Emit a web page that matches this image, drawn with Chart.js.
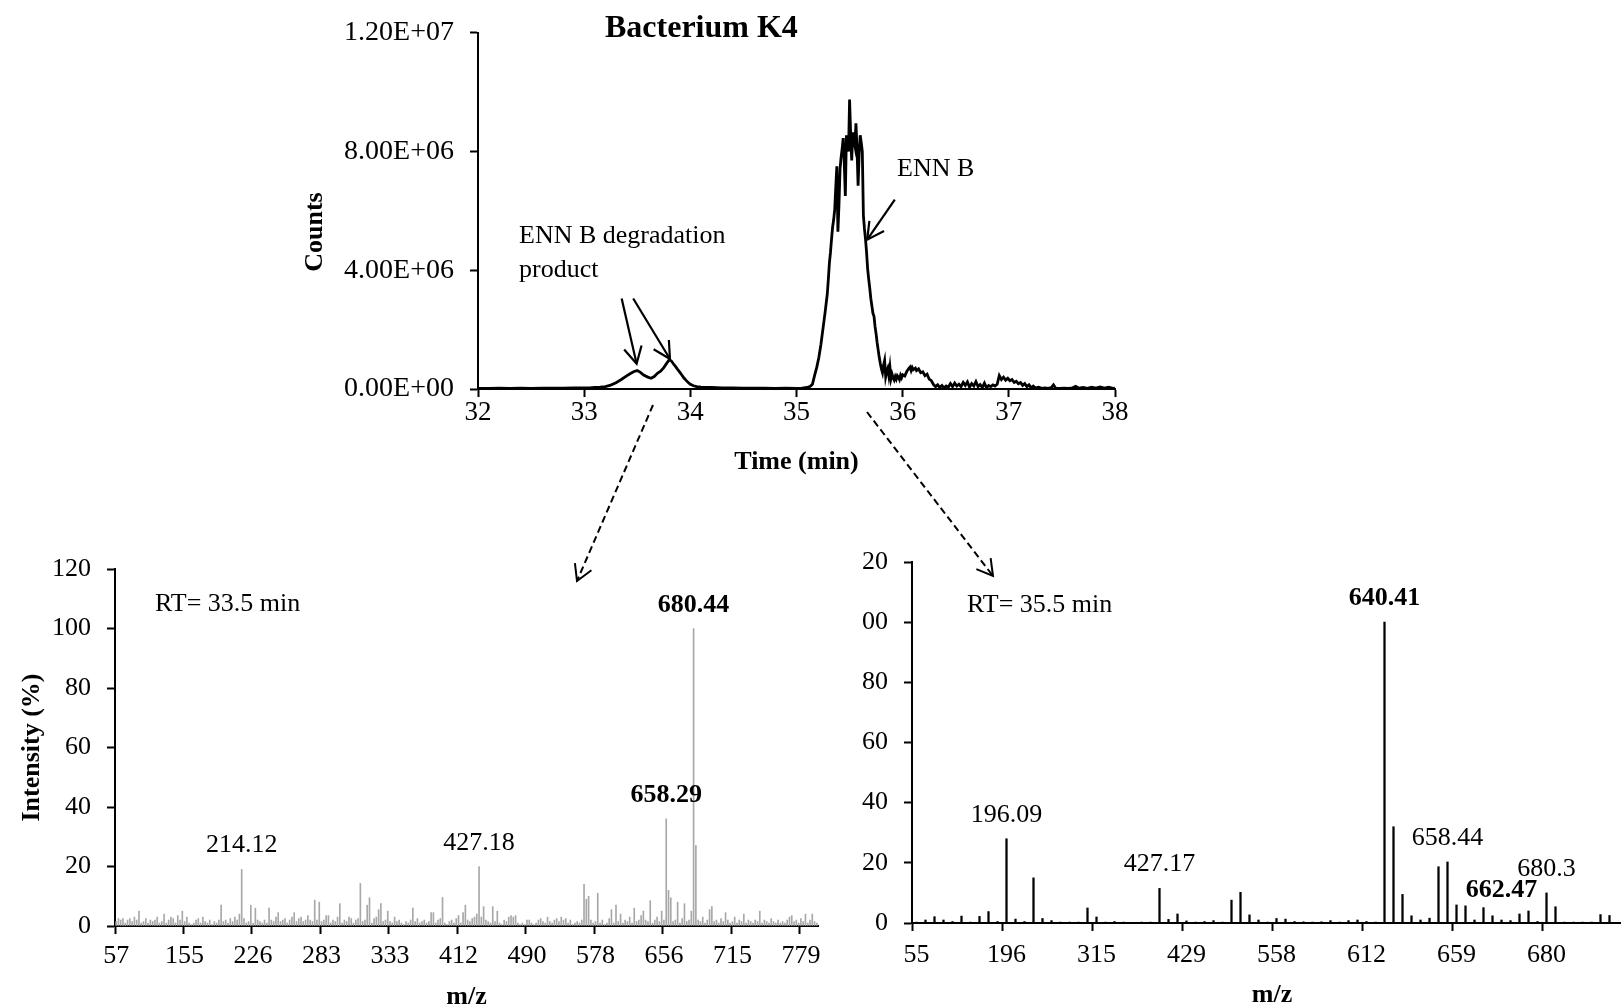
<!DOCTYPE html>
<html>
<head>
<meta charset="utf-8">
<title>Bacterium K4 – ENN B degradation</title>
<script src="https://cdn.jsdelivr.net/npm/chart.js@4.4.1/dist/chart.umd.min.js"></script>
<style>
  html, body { margin: 0; padding: 0; background: #fff; }
  body { position: relative; width: 1621px; height: 1008px; overflow: hidden; }
  canvas { position: absolute; display: block; }
  #tic { left: 260px; top: 0; }
  #msA { left: 0; top: 520px; }
  #clipB { position: absolute; left: 862px; top: 520px; width: 759px; height: 488px; overflow: hidden; }
  #msB { left: -22px; top: 0; }
  #links { left: 0; top: 0; pointer-events: none; z-index: 5; }
</style>
</head>
<body>
<canvas id="tic" width="880" height="480"></canvas>
<canvas id="msA" width="862" height="490"></canvas>
<div id="clipB"><canvas id="msB" width="800" height="490"></canvas></div>
<canvas id="links" width="1621" height="1008"></canvas>
<script>
// ---------- Total ion chromatogram (time in min, counts in millions) ----------
const times = [
  32.00,32.10,32.20,32.30,32.40,32.50,32.60,32.70,32.80,32.90,
  33.00,33.05,33.10,33.15,33.20,33.25,33.30,33.35,33.40,33.44,
  33.47,33.50,33.53,33.56,33.60,33.63,33.66,33.69,33.72,33.75,
  33.78,33.80,33.82,33.84,33.86,33.88,33.90,33.92,33.94,33.96,
  33.98,34.00,34.03,34.06,34.10,34.20,34.30,34.40,34.50,34.60,
  34.70,34.80,34.90,35.00,35.05,35.10,35.13,35.15,35.17,35.19,
  35.21,35.23,35.25,35.27,35.29,35.30,35.31,35.32,35.33,35.34,
  35.35,35.36,35.37,35.38,35.39,35.40,35.41,35.42,35.43,35.44,
  35.45,35.46,35.47,35.48,35.49,35.50,35.51,35.52,35.53,35.54,
  35.55,35.56,35.57,35.58,35.59,35.60,35.61,35.62,35.63,35.64,
  35.65,35.66,35.67,35.68,35.69,35.70,35.71,35.72,35.73,35.74,
  35.75,35.76,35.77,35.78,35.79,35.80,35.81,35.82,35.83,35.84,
  35.85,35.86,35.87,35.88,35.89,35.90,35.91,35.92,35.93,35.94,
  35.95,35.96,35.97,35.98,35.99,36.00,36.02,36.04,36.06,36.07,
  36.08,36.09,36.10,36.12,36.13,36.15,36.17,36.19,36.21,36.23,
  36.25,36.27,36.29,36.31,36.33,36.35,36.37,36.39,36.41,36.43,
  36.45,36.47,36.49,36.51,36.53,36.55,36.57,36.59,36.61,36.63,
  36.65,36.67,36.69,36.71,36.73,36.75,36.77,36.79,36.81,36.83,
  36.85,36.87,36.89,36.91,36.93,36.95,36.97,36.99,37.01,37.03,
  37.05,37.07,37.09,37.11,37.13,37.15,37.17,37.19,37.21,37.23,
  37.25,37.28,37.31,37.34,37.37,37.40,37.42,37.44,37.48,37.52,
  37.56,37.60,37.63,37.66,37.70,37.74,37.78,37.82,37.86,37.90,
  37.94,37.98,38.00
];
const countsMillions = [
  0.02,0.02,0.03,0.02,0.03,0.02,0.03,0.03,0.03,0.04,
  0.04,0.04,0.05,0.06,0.08,0.13,0.21,0.32,0.44,0.53,
  0.59,0.62,0.56,0.47,0.40,0.36,0.42,0.53,0.60,0.72,
  0.88,0.98,0.95,0.85,0.76,0.66,0.57,0.47,0.37,0.29,
  0.22,0.16,0.11,0.08,0.06,0.05,0.04,0.04,0.03,0.03,
  0.03,0.02,0.03,0.02,0.03,0.05,0.09,0.16,0.45,0.72,
  1.05,1.50,2.05,2.60,3.20,3.70,4.25,4.60,5.05,5.45,
  5.70,6.05,6.80,7.50,5.30,6.20,7.40,7.80,8.10,8.45,
  7.60,6.50,8.55,8.30,8.00,9.75,8.60,7.70,8.65,8.40,
  8.20,8.95,8.10,6.85,7.90,8.55,8.30,8.00,5.85,5.40,
  5.05,4.60,4.05,3.70,3.40,3.05,2.80,2.55,2.45,2.10,
  1.85,1.55,1.30,1.05,0.85,0.68,0.55,0.80,0.96,0.42,
  0.60,0.70,0.45,0.74,0.35,0.50,0.38,0.30,0.42,0.33,
  0.45,0.40,0.32,0.46,0.38,0.48,0.44,0.60,0.70,0.74,
  0.62,0.72,0.65,0.70,0.62,0.68,0.55,0.58,0.45,0.50,
  0.33,0.28,0.15,0.08,0.14,0.05,0.12,0.04,0.10,0.06,
  0.18,0.08,0.20,0.10,0.16,0.08,0.22,0.12,0.24,0.06,
  0.18,0.10,0.25,0.08,0.15,0.05,0.20,0.04,0.12,0.08,
  0.14,0.10,0.16,0.45,0.32,0.40,0.30,0.36,0.28,0.32,
  0.22,0.26,0.18,0.22,0.12,0.18,0.08,0.14,0.04,0.10,
  0.03,0.06,0.02,0.04,0.02,0.05,0.14,0.03,0.02,0.03,
  0.02,0.04,0.09,0.03,0.05,0.02,0.06,0.03,0.07,0.03,
  0.06,0.02,0.03
];
const counts = countsMillions.map(v => v * 1e6);

// ---------- MS spectrum at RT 33.5 min (relative intensity, %) ----------
const mzTicksA = ['57','155','226','283','333','412','490','578','656','715','779'];
const intensityA = [
  1.5,2.5,2,2.5,1,2,2.5,1.5,3,2,5,1,1.5,2.5,1,2,1.5,2,3,1,
  1.5,4,1,2,3,2.5,1,3.5,2,5,1.5,3,1,0.5,1,2,2.5,1,3,1.5,
  1,2,0.5,1.5,1,2,7,1.5,2,1,2.5,1.5,3,2,4,19,2.5,1,1.5,7,
  1,6,2,1.5,1,2,1,6,2,1.5,3,4.5,1.5,2,2.5,1,2,3,4.5,1.5,
  2.5,3,1.5,2,3.5,2,1.5,8.7,2,8,1.5,2,3.5,3.5,1,2,1.5,3,7.5,1,
  2,1.5,3,2.5,1,2,2.5,14.3,1.5,2,7,9.5,1,2.5,3,5.5,7.5,1.5,2,5,
  1.5,1,3,1.5,2,1,0.5,1.5,1,2,6,1.5,2.5,1,1.5,2,1,1.5,4.5,4.5,
  1,2,2.5,9.6,1,0.5,1.5,2,1,2.5,3.5,1,4.5,7,2,1.5,2.5,3,4,20,
  3,6.5,2,1.5,1,6.5,1.5,5,1,0.5,2,1.5,3,3.5,3,3.5,1,0.5,1,0.5,
  2,2,1,0.5,1,2,2.5,1.5,1,3,1.5,1,2,2.5,1.5,3,2,2.5,1,2,
  0.5,1,1.5,1,2,14,9,10,2,1,1.5,11,1,2,0.5,1,2.5,5.5,1,7,
  1.5,4,1,2,1.5,3,1,6,1.5,2,3.5,5,2,1.5,8.5,1,2,3,1.5,5,
  2,36,12,9.5,1.5,2,8,1,2.5,7.5,1.5,2,5,100,27,2,1.5,3,1,2,
  5.5,6.5,1.5,2,1,2.5,1.5,4.5,2,1,1.5,3,1,2,1.5,4,1,2,1.5,1,
  2,1.5,5,1,2,1.5,1,2.5,1.5,1,2,1,1.5,1,2,3,3.5,1.5,2,1,
  2.5,1.5,4,1,2,4,1.5,1
];
const peakLabelsA = [
  { index: 55, text: '214.12' },
  { index: 159, text: '427.18' },
  { index: 241, text: '658.29', bold: true },
  { index: 253, text: '680.44', bold: true }
];

// ---------- MS spectrum at RT 35.5 min (relative intensity, %) ----------
const mzTicksB = ['55','196','315','429','558','612','659','680'];
const intensityB = [
  0.3,1,2.1,1,0.5,2.3,0.3,2.2,3.8,0.5,
  28,1.3,0.5,15,1.5,0.8,0.3,0.3,0.3,5,
  2,0.3,0.5,0.3,0.2,0.3,0.3,11.5,1.2,3,
  0.7,0.3,0.5,0.8,0.3,7.6,10.2,2.7,1,0.3,
  1.5,1.3,0.5,0.4,0.3,0.4,0.8,0.3,0.8,1,
  0.5,0.3,100,32,9.5,2.4,1,1.6,18.7,20.3,
  6,5.7,1,5.1,2.4,1,0.8,3,4,0.5,
  10,5.4,0.3,0.3,0.3,0.3,2.8,2.5,0,0
];
const peakLabelsB = [
  { index: 10, text: '196.09' },
  { index: 27, text: '427.17' },
  { index: 52, text: '640.41', bold: true },
  { index: 59, text: '658.44' },
  { index: 65, text: '662.47', bold: true, dy: -6 },
  { index: 70, text: '680.3' }
];

// ---------- shared styling ----------
const FAMILY = '"Liberation Serif", "Times New Roman", Times, serif';
Chart.defaults.font.family = FAMILY;
Chart.defaults.font.size = 26;
Chart.defaults.color = '#000';
Chart.defaults.animation = false;
Chart.defaults.plugins.legend.display = false;
Chart.defaults.plugins.tooltip.enabled = false;

function sci(v) {
  if (v === 0) return '0.00E+00';
  const e = Math.floor(Math.log10(v) + 1e-9);
  const m = v / Math.pow(10, e);
  return m.toFixed(2) + 'E+' + String(e).padStart(2, '0');
}

function font(size, bold) {
  return (bold ? 'bold ' : '') + size + 'px ' + FAMILY;
}

function drawArrow(ctx, x1, y1, x2, y2, opts) {
  const len = opts.head || 18, ang = (opts.angle || 28) * Math.PI / 180;
  ctx.save();
  ctx.strokeStyle = '#000';
  ctx.lineWidth = opts.width || 2;
  ctx.lineCap = 'butt';
  ctx.setLineDash(opts.dash || []);
  ctx.beginPath();
  ctx.moveTo(x1, y1);
  ctx.lineTo(x2, y2);
  ctx.stroke();
  ctx.setLineDash([]);
  const a = Math.atan2(y1 - y2, x1 - x2);
  ctx.beginPath();
  ctx.moveTo(x2 + len * Math.cos(a + ang), y2 + len * Math.sin(a + ang));
  ctx.lineTo(x2, y2);
  ctx.lineTo(x2 + len * Math.cos(a - ang), y2 + len * Math.sin(a - ang));
  ctx.stroke();
  ctx.restore();
}

// annotation plugin: free texts, peak m/z labels and data-anchored arrows
function notes(spec) {
  return {
    id: 'notes',
    afterDatasetsDraw(chart) {
      const ctx = chart.ctx;
      ctx.save();
      ctx.fillStyle = '#000';
      (spec.texts || []).forEach(t => {
        ctx.save();
        ctx.font = font(t.size || 26, t.bold);
        ctx.textAlign = t.align || 'left';
        ctx.textBaseline = t.baseline || 'alphabetic';
        ctx.translate(t.x, t.y);
        if (t.rotate) ctx.rotate(t.rotate);
        ctx.fillText(t.text, 0, 0);
        ctx.restore();
      });
      if (spec.peaks) {
        const meta = chart.getDatasetMeta(0);
        spec.peaks.forEach(p => {
          const bar = meta.data[p.index];
          ctx.font = font(26, p.bold);
          ctx.textAlign = 'center';
          ctx.textBaseline = 'alphabetic';
          ctx.fillText(p.text, bar.x, bar.y - 17 + (p.dy || 0));
        });
      }
      if (spec.arrows) {
        const xs = chart.scales.x, ys = chart.scales.y;
        spec.arrows.forEach(a => {
          drawArrow(ctx,
            xs.getPixelForValue(a.from[0]), ys.getPixelForValue(a.from[1]),
            xs.getPixelForValue(a.to[0]), ys.getPixelForValue(a.to[1]),
            { width: 2.2, head: 19, angle: 28 });
        });
      }
      ctx.restore();
    }
  };
}

function axisGrid(colorFn) {
  return {
    drawOnChartArea: false,
    drawTicks: true,
    tickLength: 8,
    tickWidth: 2,
    tickColor: colorFn || '#000'
  };
}
const axisBorder = { display: true, color: '#000', width: 2 };

// ---------- chromatogram ----------
new Chart(document.getElementById('tic'), {
  type: 'line',
  data: {
    datasets: [{
      data: times.map((t, i) => ({ x: t, y: counts[i] })),
      borderColor: '#000',
      borderWidth: 2.8,
      pointRadius: 0,
      tension: 0,
      fill: false
    }]
  },
  options: {
    responsive: false,
    devicePixelRatio: 1,
    layout: { autoPadding: false, padding: { left: 0, top: 26, right: 25, bottom: 0 } },
    scales: {
      x: {
        type: 'linear', min: 32, max: 38,
        ticks: { stepSize: 1, padding: 0, font: { size: 27 } },
        grid: axisGrid(),
        border: axisBorder,
        title: { display: true, text: 'Time (min)', font: { size: 26, weight: 'bold', lineHeight: 1 }, padding: { top: 0, bottom: 5 } },
        afterFit: s => { s.height = 91; }
      },
      y: {
        min: 0, max: 1.2e7,
        ticks: { stepSize: 4e6, padding: 16, font: { size: 28 }, callback: v => sci(v) },
        grid: axisGrid(),
        border: axisBorder,
        afterFit: s => { s.width = 218; }
      }
    }
  },
  plugins: [notes({
    texts: [
      { text: 'Bacterium K4', x: 345, y: 37, size: 32, bold: true },
      { text: 'Counts', x: 55, y: 232, bold: true, align: 'center', baseline: 'middle', rotate: -Math.PI / 2 },
      { text: 'ENN B degradation', x: 259, y: 243 },
      { text: 'product', x: 259, y: 277 },
      { text: 'ENN B', x: 637, y: 176 }
    ],
    arrows: [
      { from: [33.353, 3.05e6], to: [33.494, 0.85e6] },
      { from: [33.462, 3.05e6], to: [33.808, 1.01e6] },
      { from: [35.926, 6.38e6], to: [35.666, 5.03e6] }
    ]
  })]
});

// ---------- mass spectrum, RT 33.5 min ----------
const catsA = intensityA.map((_, i) => (i % 30 === 0 && mzTicksA[i / 30]) ? mzTicksA[i / 30] : '');
new Chart(document.getElementById('msA'), {
  type: 'bar',
  data: {
    labels: catsA,
    datasets: [{ data: intensityA, backgroundColor: '#a8a8a8', barThickness: 1 }]
  },
  options: {
    responsive: false,
    devicePixelRatio: 1,
    layout: { autoPadding: false, padding: { left: 0, top: 49, right: 44, bottom: 0 } },
    scales: {
      x: {
        offset: true,
        ticks: { autoSkip: false, maxRotation: 0, minRotation: 0, padding: 7 },
        grid: Object.assign(axisGrid(c => c.index % 30 === 0 ? '#000' : 'rgba(0,0,0,0)'), { offset: true }),
        border: axisBorder,
        title: { display: true, text: 'm/z', font: { size: 26, weight: 'bold', lineHeight: 1 }, padding: { top: 0, bottom: 0 } },
        afterFit: s => { s.height = 84; }
      },
      y: {
        min: 0, max: 120,
        ticks: { stepSize: 20, padding: 16 },
        grid: axisGrid(),
        border: axisBorder,
        title: { display: true, text: 'Intensity (%)', font: { size: 26, weight: 'bold', lineHeight: 1 }, padding: { top: 19, bottom: 0 } },
        afterFit: s => { s.width = 115; }
      }
    }
  },
  plugins: [notes({
    texts: [{ text: 'RT= 33.5 min', x: 155, y: 91 }],
    peaks: peakLabelsA
  })]
});

// ---------- mass spectrum, RT 35.5 min ----------
const catsB = intensityB.map((_, i) => (i % 10 === 0 && mzTicksB[i / 10]) ? mzTicksB[i / 10] : '');
new Chart(document.getElementById('msB'), {
  type: 'bar',
  data: {
    labels: catsB,
    datasets: [{ data: intensityB, backgroundColor: '#000', barThickness: 1.6 }]
  },
  options: {
    responsive: false,
    devicePixelRatio: 1,
    layout: { autoPadding: false, padding: { left: 0, top: 42, right: 8, bottom: 0 } },
    scales: {
      x: {
        offset: true,
        ticks: { autoSkip: false, maxRotation: 0, minRotation: 0, padding: 9 },
        grid: Object.assign(axisGrid(c => c.index % 10 === 0 ? '#000' : 'rgba(0,0,0,0)'), { offset: true }),
        border: axisBorder,
        title: { display: true, text: 'm/z', font: { size: 26, weight: 'bold', lineHeight: 1 }, padding: { top: 0, bottom: 2 } },
        afterFit: s => { s.height = 87; }
      },
      y: {
        min: 0, max: 120,
        ticks: { stepSize: 20, padding: 16 },
        grid: axisGrid(),
        border: axisBorder,
        afterFit: s => { s.width = 72; }
      }
    }
  },
  plugins: [notes({
    texts: [{ text: 'RT= 35.5 min', x: 127, y: 92 }],
    peaks: peakLabelsB
  })]
});

// ---------- dashed links from the chromatogram peaks to their spectra ----------
(function () {
  const ctx = document.getElementById('links').getContext('2d');
  drawArrow(ctx, 653, 405, 577, 581, { width: 2, dash: [7, 4], head: 18, angle: 30 });
  drawArrow(ctx, 867, 412, 993, 576, { width: 2, dash: [7, 4], head: 18, angle: 30 });
})();
</script>
</body>
</html>
